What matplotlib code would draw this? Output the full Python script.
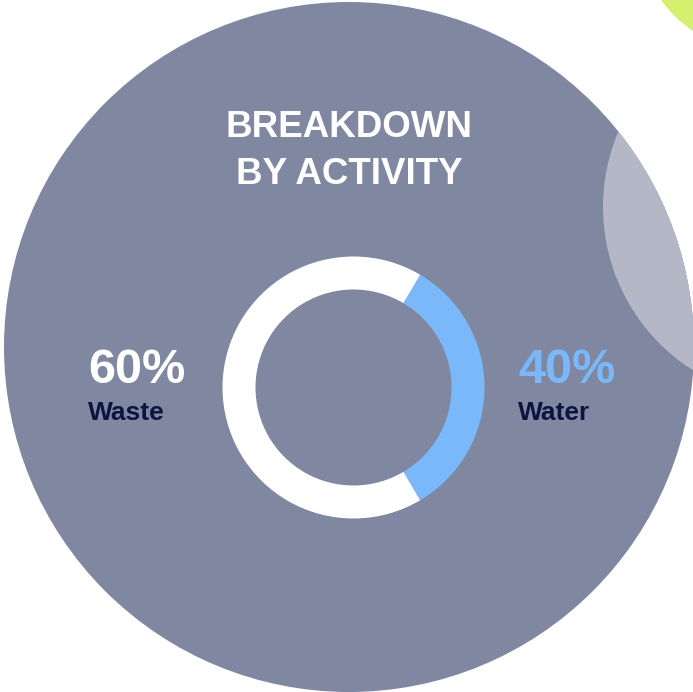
import matplotlib
matplotlib.use("Agg")
import matplotlib.pyplot as plt
from matplotlib.patches import Circle

# data
categories = ["Waste", "Water"]
pct_labels = [60, 40]
arc_share = [33, 67]  # blue arc vs white arc, as drawn in the ring (water first)
title_lines = ["BREAKDOWN", "BY ACTIVITY"]

gray = "#8087a0"
light = "#b3b7c6"
lime = "#d4f06e"
blue = "#7ab8fa"
navy = "#0c1441"

plt.rcParams["font.family"] = ["Liberation Sans Narrow", "Liberation Sans", "DejaVu Sans"]

fig = plt.figure(figsize=(6.93, 6.92), dpi=100)
ax = fig.add_axes([0, 0, 1, 1])

# background shapes
big = Circle((349, 347), 345, facecolor=gray, edgecolor="none", zorder=1)
ax.add_patch(big)
side = Circle((796, 207), 193, facecolor=light, edgecolor="none", zorder=2)
ax.add_patch(side)
side.set_clip_path(big)
ax.add_patch(Circle((762, -72), 124, facecolor=lime, edgecolor="none", zorder=1))

# ring
wedges, _ = ax.pie(arc_share, colors=[blue, "white"], startangle=-arc_share[0] * 1.8,
                   center=(353.5, 387.5), radius=131,
                   wedgeprops=dict(width=33, linewidth=0))
for w in wedges:
    w.set_zorder(3)

ax.set_xlim(0, 693)
ax.set_ylim(692, 0)
ax.set_aspect("equal")
ax.axis("off")

# title
ax.text(349, 137, title_lines[0], color="white", fontsize=26.5, fontweight="bold",
        ha="center", va="baseline", zorder=5)
ax.text(349, 184, title_lines[1], color="white", fontsize=26.5, fontweight="bold",
        ha="center", va="baseline", zorder=5)

# labels
xs = [88, 518]
pct_colors = ["white", blue]
for x, p, c, col in zip(xs, pct_labels, categories, pct_colors):
    ax.text(x, 383, f"{p}%", color=col, fontsize=35, fontweight="bold",
            ha="left", va="baseline", zorder=5)
    ax.text(x, 420, c, color=navy, fontsize=19, fontweight="bold",
            ha="left", va="baseline", zorder=5)

fig.savefig("out.png", dpi=100, facecolor="white")
